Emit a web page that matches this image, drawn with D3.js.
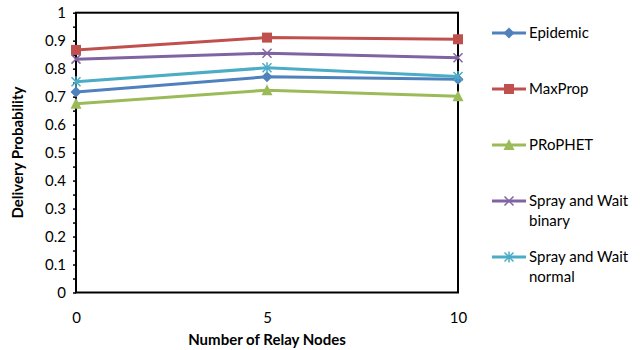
<!DOCTYPE html>
<html>
<head>
<meta charset="utf-8">
<script src="https://cdn.jsdelivr.net/npm/d3@7"></script>
<style>
  body { margin: 0; background: #fff; }
  text { font-family: Lato, "Open Sans", sans-serif; fill: #000; }
</style>
</head>
<body>
<div id="vis"></div>
<script>
/*************************** data ************************************/
var relay_nodes = [0, 5, 10];
var series_names = ["Epidemic", "MaxProp", "PRoPHET", "Spray and Wait binary", "Spray and Wait normal"];
var epidemic = [0.717, 0.771, 0.762];
var maxprop = [0.867, 0.911, 0.905];
var prophet = [0.675, 0.723, 0.701];
var spray_binary = [0.834, 0.855, 0.839];
var spray_normal = [0.753, 0.803, 0.772];
var y_ticks = [0, 0.1, 0.2, 0.3, 0.4, 0.5, 0.6, 0.7, 0.8, 0.9, 1];

var series = [
    {name: series_names[0], lines: ["Epidemic"], values: epidemic, color: "#4F81BD", marker: "diamond"},
    {name: series_names[1], lines: ["MaxProp"], values: maxprop, color: "#C0504D", marker: "square"},
    {name: series_names[2], lines: ["PRoPHET"], values: prophet, color: "#9BBB59", marker: "triangle"},
    {name: series_names[3], lines: ["Spray and Wait", "binary"], values: spray_binary, color: "#8064A2", marker: "x"},
    {name: series_names[4], lines: ["Spray and Wait", "normal"], values: spray_normal, color: "#4BACC6", marker: "star"}
];

/*************************** layout ************************************/
var W = 642, H = 350, FS = "15px";
var svg = d3.select("div#vis").append("svg")
    .attr("width", W)
    .attr("height", H);

var x = d3.scaleLinear().domain([0, 10]).range([76, 458]);
var y = d3.scaleLinear().domain([0, 1]).range([292.5, 12.7]);

// plot box
svg.append("rect")
    .attr("x", x(0)).attr("y", y(1))
    .attr("width", x(10) - x(0)).attr("height", y(0) - y(1))
    .attr("fill", "none").attr("stroke", "#000").attr("stroke-width", 2);

// y axis: ticks every 0.05, labels every 0.1
var yAxis = d3.axisLeft(y)
    .tickValues(d3.range(0, 1.0001, 0.05))
    .tickSize(3)
    .tickFormat(function(d) {
        var r = Math.round(d * 100);
        return r % 10 === 0 ? d3.format("~g")(r / 100) : "";
    });
var gy = svg.append("g").attr("transform", "translate(" + x(0) + ",0)").call(yAxis);
gy.select(".domain").remove();
gy.selectAll(".tick line").attr("stroke", "#000").attr("stroke-width", 1.5);
gy.selectAll(".tick text").attr("x", -10).style("font-size", FS).style("font-family", "Lato, sans-serif").attr("fill", "#000");

// x axis labels
var xAxis = d3.axisBottom(x).tickValues(relay_nodes).tickSize(0).tickFormat(d3.format("d"));
var gx = svg.append("g").attr("transform", "translate(0," + y(0) + ")").call(xAxis);
gx.select(".domain").remove();
gx.selectAll(".tick text").attr("y", 20).style("font-size", FS).style("font-family", "Lato, sans-serif").attr("fill", "#000");

// axis titles
svg.append("text")
    .attr("x", (x(0) + x(10)) / 2).attr("y", 345)
    .attr("text-anchor", "middle")
    .style("font-weight", "bold").style("font-size", FS)
    .text("Number of Relay Nodes");

svg.append("text")
    .attr("transform", "translate(23," + ((y(0) + y(1)) / 2) + ") rotate(-90)")
    .attr("text-anchor", "middle")
    .style("font-weight", "bold").style("font-size", FS)
    .text("Delivery Probability");

/*************************** markers ************************************/
function draw_marker(g, kind, color) {
    if (kind === "diamond")
        g.append("path").attr("d", "M0,-5.5L5.5,0L0,5.5L-5.5,0Z").attr("fill", color);
    else if (kind === "square")
        g.append("rect").attr("x", -5).attr("y", -5).attr("width", 10).attr("height", 10).attr("fill", color);
    else if (kind === "triangle")
        g.append("path").attr("d", "M0,-6L5.5,5L-5.5,5Z").attr("fill", color);
    else if (kind === "x")
        g.append("path").attr("d", "M-4.5,-4.5L4.5,4.5M-4.5,4.5L4.5,-4.5")
            .attr("stroke", color).attr("stroke-width", 1.5).attr("fill", "none");
    else if (kind === "star")
        g.append("path").attr("d", "M-4.5,-4.5L4.5,4.5M-4.5,4.5L4.5,-4.5M0,-5.5L0,5.5")
            .attr("stroke", color).attr("stroke-width", 1.5).attr("fill", "none");
}

var line = d3.line()
    .x(function(d, i) { return x(relay_nodes[i]); })
    .y(function(d) { return y(d); });

series.forEach(function(s) {
    svg.append("path")
        .datum(s.values)
        .attr("d", line)
        .attr("fill", "none")
        .attr("stroke", s.color)
        .attr("stroke-width", 3);
    s.values.forEach(function(v, i) {
        var g = svg.append("g").attr("transform", "translate(" + x(relay_nodes[i]) + "," + y(v) + ")");
        draw_marker(g, s.marker, s.color);
    });
});

/*************************** legend ************************************/
var legend_y = [33, 89, 145, 201, 257];
var legend = svg.append("g").attr("class", "legends");
series.forEach(function(s, i) {
    var g = legend.append("g").attr("transform", "translate(492," + legend_y[i] + ")");
    g.append("line").attr("x1", 0).attr("x2", 34).attr("stroke", s.color).attr("stroke-width", 3);
    draw_marker(g.append("g").attr("transform", "translate(17,0)"), s.marker, s.color);
    s.lines.forEach(function(t, k) {
        g.append("text")
            .attr("x", 37).attr("y", k * 20)
            .attr("dy", "0.35em")
            .style("font-size", FS)
            .text(t);
    });
});
</script>
</body>
</html>
